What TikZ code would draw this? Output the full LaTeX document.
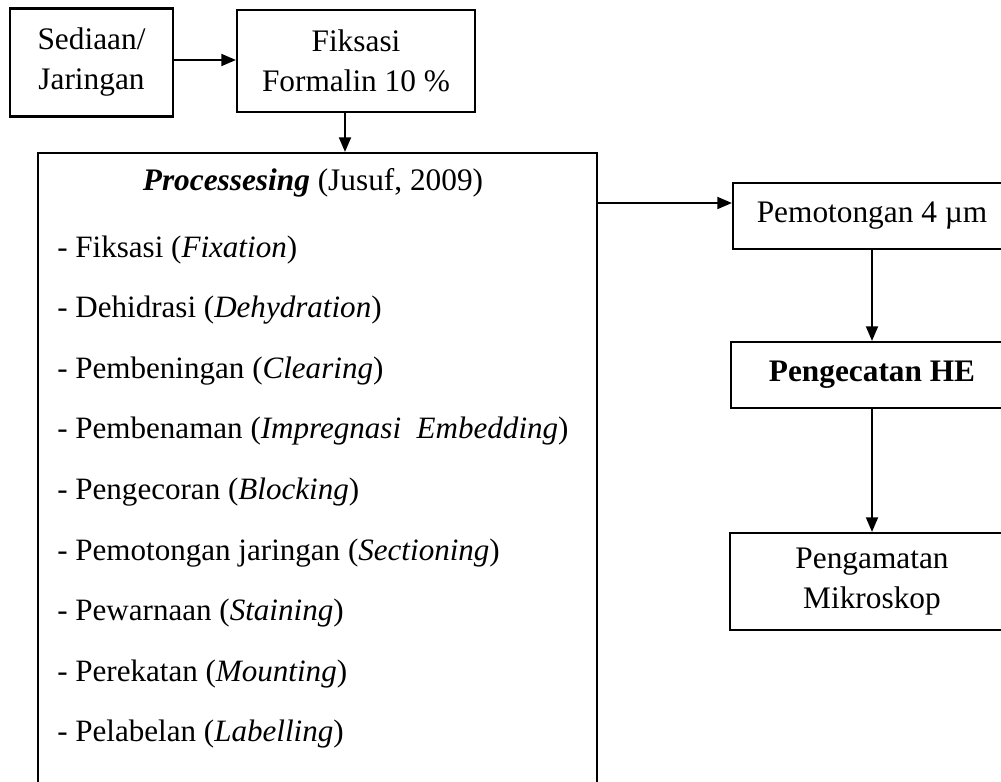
\documentclass[tikz,border=0pt]{standalone}
\usepackage{fontspec}
\setmainfont{Liberation Serif}
\usetikzlibrary{arrows.meta}
\begin{document}
\begin{tikzpicture}[x=0.75pt,y=-0.75pt,
  box/.style={draw=black,line width=1.6pt,inner sep=0pt,align=center,
    font=\fontsize{23.5}{30}\selectfont},
  arr/.style={line width=1.5pt,-{Triangle[length=11pt,width=9pt]}},
  item/.style={anchor=west,inner sep=0pt,font=\fontsize{23.3}{30}\selectfont,
    text height=0.7em,text depth=0.25em}]
\useasboundingbox (0,0) rectangle (1001,782);
\clip (0,0) rectangle (1001,782);
\fill[white] (0,0) rectangle (1001,782);
% boxes
\node[box,minimum width=122.25pt,minimum height=81pt] (sed) at (91.5,62.5) {Sediaan/\\Jaringan};
\node[box,minimum width=178.5pt,minimum height=76pt] (fik) at (356,61) {Fiksasi\\Formalin 10 \%};
\node[box,minimum width=419.25pt,minimum height=487.5pt] (proc) at (317.5,478) {};
\node[box,minimum width=208.5pt,minimum height=50pt] (pem) at (872,216) {Pemotongan 4 µm};
\node[box,minimum width=211.5pt,minimum height=49.5pt,font=\fontsize{23.5}{30}\selectfont\bfseries] (he) at (872,375) {Pengecatan HE};
\node[box,minimum width=213pt,minimum height=72.75pt] (obs) at (872,581.5) {Pengamatan\\Mikroskop};
% text inside processing box
\node[inner sep=0pt,font=\fontsize{23.5}{30}\selectfont] (title) at (313,183) {\textbf{\textit{Processesing}} (Jusuf, 2009)};
\node[item] (i1) at (57,254) {- Fiksasi (\textit{Fixation})};
\node[item] (i2) at (57,314.6) {- Dehidrasi (\textit{Dehydration})};
\node[item] (i3) at (57,375.2) {- Pembeningan (\textit{Clearing})};
\node[item] (i4) at (57,435.8) {- Pembenaman (\textit{Impregnasi\hspace{0.5em}Embedding})};
\node[item] (i5) at (57,496.4) {- Pengecoran (\textit{Blocking})};
\node[item] (i6) at (57,557) {- Pemotongan jaringan (\textit{Sectioning})};
\node[item] (i7) at (57,617.6) {- Pewarnaan (\textit{Staining})};
\node[item] (i8) at (57,678.2) {- Perekatan (\textit{Mounting})};
\node[item] (i9) at (57,738.8) {- Pelabelan (\textit{Labelling})};
% connectors
\draw[arr] (sed.east |- 0,60) -- (fik.west |- 0,60);
\coordinate (fikout) at ([xshift=-8.25pt]fik.south);
\draw[arr] (fikout) -- (fikout |- proc.north);
\coordinate (pemin) at ([yshift=9.75pt]pem.west);
\draw[arr] (proc.east |- pemin) -- (pemin);
\draw[arr] (pem.south) -- (he.north);
\draw[arr] (he.south) -- (obs.north);
\end{tikzpicture}
\end{document}
